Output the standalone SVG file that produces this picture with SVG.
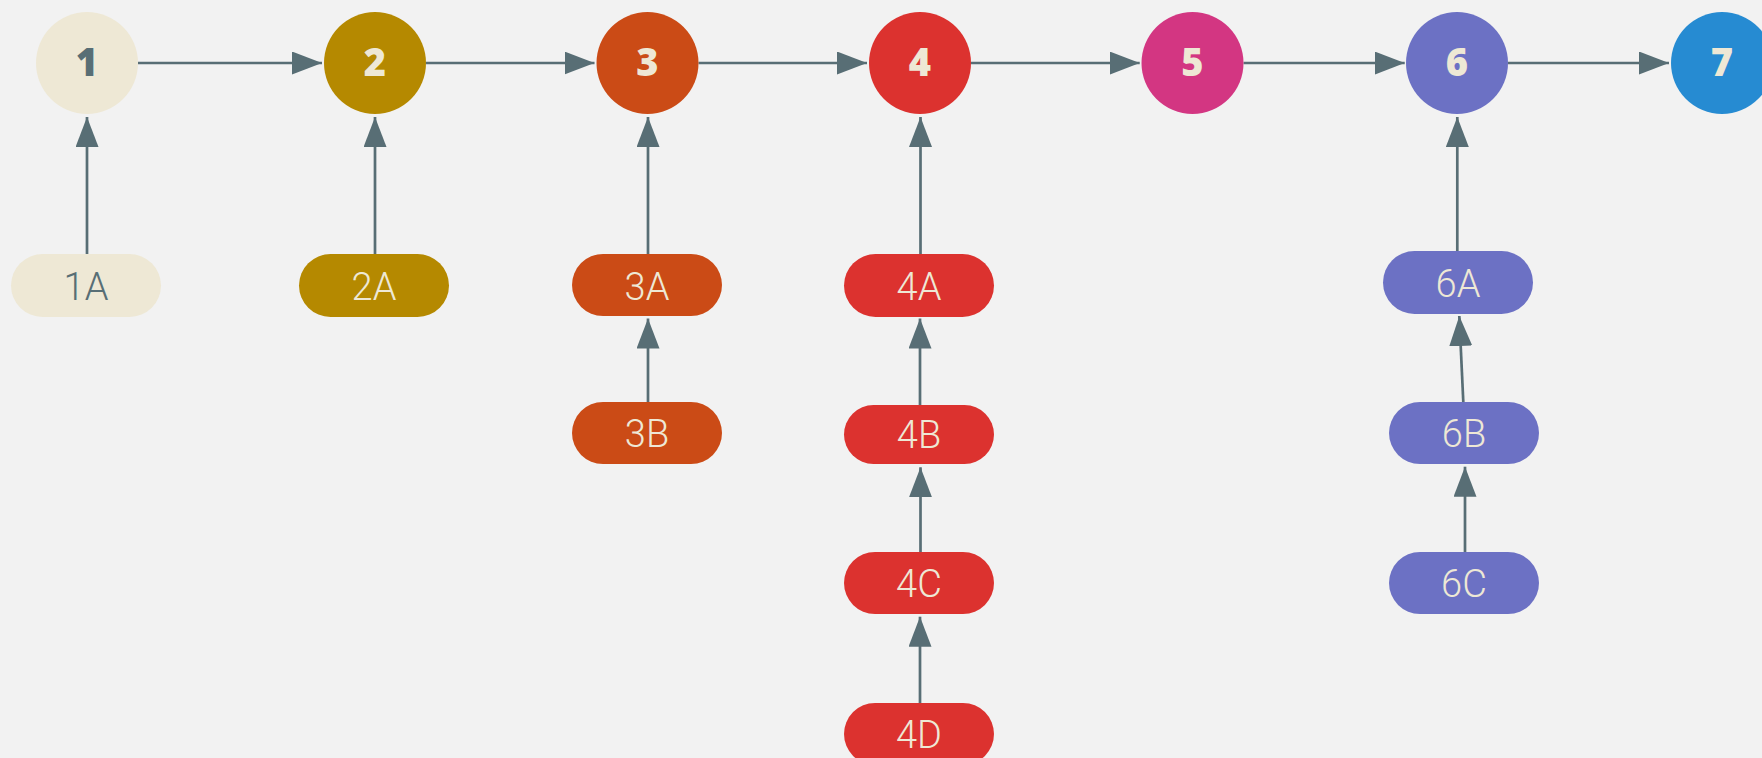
<svg xmlns="http://www.w3.org/2000/svg" width="1762" height="758" viewBox="0 0 1762 758">
<style>
.bg{fill:#f2f2f2}
.c1{fill:#eee8d5}.c2{fill:#b58900}.c3{fill:#cb4b16}.c4{fill:#dc322f}.c5{fill:#d33682}.c6{fill:#6c71c4}.c7{fill:#268bd2}
.num{font-family:"Open Sans","Liberation Sans",sans-serif;font-weight:800;font-size:38px;text-anchor:middle;fill:#eee8d5}
.lbl{font-family:Roboto,"Liberation Sans",sans-serif;font-weight:300;font-size:38px;text-anchor:middle;fill:#eee8d5}
.dark{fill:#586e75}
.edge{stroke:#586e75;stroke-width:2.7;fill:none;marker-end:url(#arr)}
</style>
<defs>
<marker id="arr" markerUnits="userSpaceOnUse" viewBox="0 0 30 23" refX="30" refY="11.5" markerWidth="30" markerHeight="23" orient="auto">
<path d="M0,0 L30,11.5 L0,23 Z" fill="#586e75"/>
</marker>
</defs>
<rect class="bg" x="0" y="0" width="1762" height="758"/>
<g id="connectors">
<line class="edge" x1="138" y1="63" x2="322" y2="63"/>
<line class="edge" x1="426" y1="63" x2="594.5" y2="63"/>
<line class="edge" x1="698.5" y1="63" x2="867" y2="63"/>
<line class="edge" x1="971" y1="63" x2="1139.7" y2="63"/>
<line class="edge" x1="1243.5" y1="63" x2="1404.7" y2="63"/>
<line class="edge" x1="1508" y1="63" x2="1669" y2="63"/>
<line class="edge" x1="87" y1="254" x2="87" y2="117"/>
<line class="edge" x1="375" y1="254" x2="375" y2="117"/>
<line class="edge" x1="648" y1="254" x2="648" y2="117"/>
<line class="edge" x1="920.5" y1="254" x2="920.5" y2="117"/>
<line class="edge" x1="1457.3" y1="251" x2="1457.3" y2="117"/>
<line class="edge" x1="648" y1="402" x2="648" y2="318.5"/>
<line class="edge" x1="920" y1="405" x2="920" y2="318.5"/>
<line class="edge" x1="920.5" y1="552" x2="920.5" y2="467.3"/>
<line class="edge" x1="920" y1="703" x2="920" y2="616.7"/>
<line class="edge" x1="1463.3" y1="402" x2="1459.3" y2="316"/>
<line class="edge" x1="1465" y1="552" x2="1465" y2="466.7"/>
</g>
<g id="n1"><circle class="c1" cx="87" cy="63" r="51"/><text class="num dark" x="87" y="75.5">1</text></g>
<g id="n2"><circle class="c2" cx="375" cy="63" r="51"/><text class="num" x="375" y="75.5">2</text></g>
<g id="n3"><circle class="c3" cx="647.5" cy="63" r="51"/><text class="num" x="647.5" y="75.5">3</text></g>
<g id="n4"><circle class="c4" cx="920" cy="63" r="51"/><text class="num" x="920" y="75.5">4</text></g>
<g id="n5"><circle class="c5" cx="1192.5" cy="63" r="51"/><text class="num" x="1192.5" y="75.5">5</text></g>
<g id="n6"><circle class="c6" cx="1457" cy="63" r="51"/><text class="num" x="1457" y="75.5">6</text></g>
<g id="n7"><circle class="c7" cx="1722" cy="63" r="51"/><text class="num" x="1722" y="75.5">7</text></g>
<g id="n1A"><rect class="c1" x="11" y="254" width="150" height="63" rx="31.5"/><text class="lbl dark" x="86" y="300">1A</text></g>
<g id="n2A"><rect class="c2" x="299" y="254" width="150" height="63" rx="31.5"/><text class="lbl" x="374" y="300">2A</text></g>
<g id="n3A"><rect class="c3" x="572" y="254" width="150" height="62" rx="31"/><text class="lbl" x="647" y="299.5">3A</text></g>
<g id="n3B"><rect class="c3" x="572" y="402" width="150" height="62" rx="31"/><text class="lbl" x="647" y="447">3B</text></g>
<g id="n4A"><rect class="c4" x="844" y="254" width="150" height="63" rx="31.5"/><text class="lbl" x="919" y="300">4A</text></g>
<g id="n4B"><rect class="c4" x="844" y="405" width="150" height="59" rx="29.5"/><text class="lbl" x="919" y="448">4B</text></g>
<g id="n4C"><rect class="c4" x="844" y="552" width="150" height="62" rx="31"/><text class="lbl" x="919" y="597">4C</text></g>
<g id="n4D"><rect class="c4" x="844" y="703" width="150" height="62" rx="31"/><text class="lbl" x="919" y="748">4D</text></g>
<g id="n6A"><rect class="c6" x="1383" y="251" width="150" height="63" rx="31.5"/><text class="lbl" x="1458" y="297">6A</text></g>
<g id="n6B"><rect class="c6" x="1389" y="402" width="150" height="62" rx="31"/><text class="lbl" x="1464" y="447">6B</text></g>
<g id="n6C"><rect class="c6" x="1389" y="552" width="150" height="62" rx="31"/><text class="lbl" x="1464" y="597">6C</text></g>
</svg>
